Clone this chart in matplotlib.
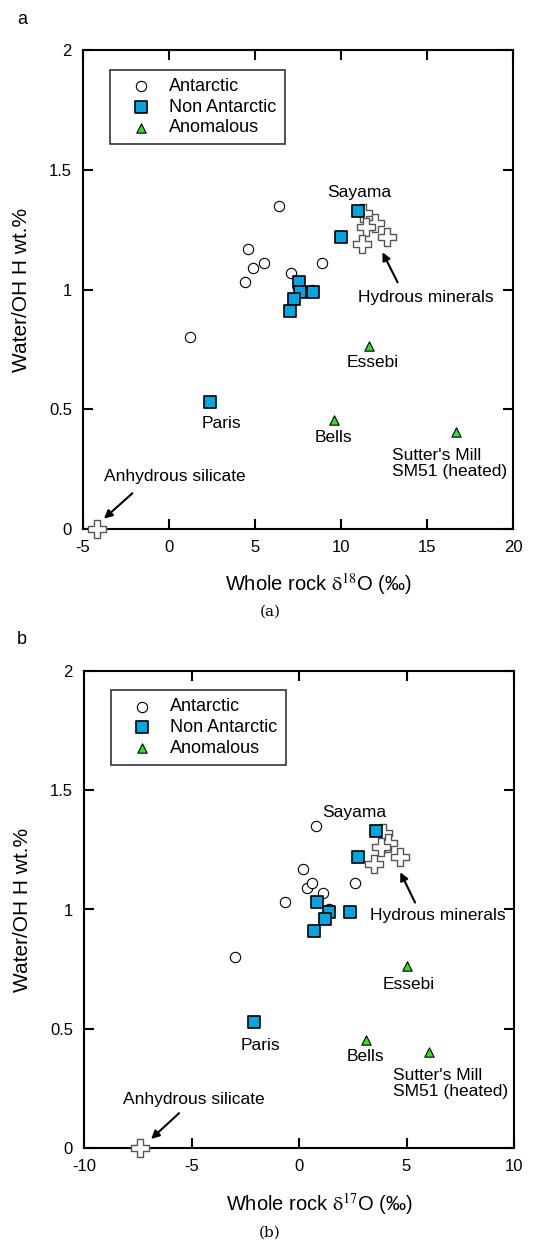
import matplotlib
matplotlib.use('Agg')
import matplotlib.pyplot as plt

plt.rcParams['font.family'] = ['Liberation Sans', 'DejaVu Sans']
plt.rcParams['font.size'] = 12
plt.rcParams['mathtext.fontset'] = 'stix'

# panel a : delta 18O
ant_18 = [6.4, 4.6, 4.9, 5.5, 4.4, 7.1, 8.9, 8.3, 1.2]
ant_h = [1.35, 1.17, 1.09, 1.11, 1.03, 1.07, 1.11, 1.00, 0.80]
non_18 = [11.0, 10.0, 7.55, 7.6, 8.35, 7.27, 7.05, 2.4]
non_h = [1.33, 1.22, 1.03, 0.99, 0.99, 0.96, 0.91, 0.53]
anom_18 = [11.65, 9.6, 16.7]
anom_h = [0.765, 0.455, 0.405]
hyd_18 = [11.3, 12.0, 11.45, 12.7, 11.2, -4.2]
hyd_h = [1.32, 1.28, 1.26, 1.22, 1.19, 0.0]

# panel b : delta 17O
ant_17 = [0.8, 0.2, 0.35, 0.6, -0.65, 1.1, 2.6, 1.4, -3.0]
non_17 = [3.6, 2.75, 0.85, 1.4, 2.35, 1.2, 0.7, -2.1]
anom_17 = [5.0, 3.13, 6.03]
hyd_17 = [3.9, 4.15, 3.8, 4.7, 3.5, -7.4]

sq_color = '#00a6e2'
tri_color = '#2ee02e'

fig = plt.figure(figsize=(5.52, 12.43), dpi=100)
ax_a = fig.add_axes([83/552, 714.3/1243, 430/552, 478.4/1243])
ax_b = fig.add_axes([84/552, 94.7/1243, 430/552, 477.6/1243])


def draw(ax, xa, xn, xt, xh, xlim, xticks, labels, arrows, xlabel):
    ax.scatter(xh, hyd_h, marker='P', s=150, facecolor='white', edgecolor='#555555',
               linewidth=1.0, zorder=5, clip_on=False)
    ax.scatter(xa, ant_h, marker='o', s=55, facecolor='white', edgecolor='black',
               linewidth=0.8, zorder=3, label='Antarctic')
    ax.scatter(xn, non_h, marker='s', s=75, facecolor=sq_color, edgecolor='black',
               linewidth=1.2, zorder=6, label='Non Antarctic')
    ax.scatter(xt, anom_h, marker='^', s=45, facecolor=tri_color, edgecolor='black',
               linewidth=0.8, zorder=4, label='Anomalous')

    for txt, x, y, ha in labels:
        ax.text(x, y, txt, ha=ha, va='center', fontsize=12.5, linespacing=1.1)
    for (x0, y0), (x1, y1) in arrows:
        ax.annotate('', xy=(x1, y1), xytext=(x0, y0),
                    arrowprops=dict(arrowstyle='-|>', color='black', lw=1.5,
                                    mutation_scale=12, shrinkA=0, shrinkB=0))

    ax.set_xlim(xlim)
    ax.set_ylim(0, 2)
    ax.set_xticks(xticks)
    ax.set_xticklabels([str(v) for v in xticks])
    ax.set_yticks([0, 0.5, 1, 1.5, 2])
    ax.set_yticklabels(['0', '0.5', '1', '1.5', '2'])
    ax.tick_params(direction='in', length=7, width=1.5, top=True, right=True,
                   pad=8, labelsize=12)
    for sp in ax.spines.values():
        sp.set_linewidth(1.5)

    ax.set_xlabel(xlabel, fontsize=14.5, va='center')
    ax.xaxis.set_label_coords(0.547, -0.116)
    ax.set_ylabel('Water/OH H wt.%', fontsize=15, va='center')
    ax.yaxis.set_label_coords(-0.142, 0.5)

    leg = ax.legend(loc='upper left', bbox_to_anchor=(0.062, 0.959), borderaxespad=0,
                    frameon=True, fancybox=False, edgecolor='black', fontsize=13,
                    handletextpad=0.25, labelspacing=0.2, borderpad=0.45,
                    handlelength=2.6, scatterpoints=1)
    leg.get_frame().set_linewidth(1.2)


draw(ax_a, ant_18, non_18, anom_18, hyd_18, (-5, 20), [-5, 0, 5, 10, 15, 20],
     [('Sayama', 11.05, 1.405, 'center'),
      ('Hydrous minerals', 14.92, 0.966, 'center'),
      ('Essebi', 11.82, 0.696, 'center'),
      ('Paris', 3.04, 0.44, 'center'),
      ('Bells', 9.55, 0.38, 'center'),
      ("Sutter's Mill\nSM51 (heated)", 12.95, 0.273, 'left'),
      ('Anhydrous silicate', 0.35, 0.217, 'center')],
     [((13.29, 1.03), (12.41, 1.156)), ((-2.13, 0.148), (-3.78, 0.042))],
     r'Whole rock $\mathrm{\delta}^{18}$O (‰)')

draw(ax_b, ant_17, non_17, anom_17, hyd_17, (-10, 10), [-10, -5, 0, 5, 10],
     [('Sayama', 2.59, 1.405, 'center'),
      ('Hydrous minerals', 6.45, 0.973, 'center'),
      ('Essebi', 5.08, 0.684, 'center'),
      ('Paris', -1.81, 0.43, 'center'),
      ('Bells', 3.1, 0.386, 'center'),
      ("Sutter's Mill\nSM51 (heated)", 4.36, 0.273, 'left'),
      ('Anhydrous silicate', -4.87, 0.206, 'center')],
     [((5.40, 1.029), (4.71, 1.156)), ((-5.58, 0.147), (-6.88, 0.039))],
     r'Whole rock $\mathrm{\delta}^{17}$O (‰)')

fig.text(22/552, 1 - 20/1243, 'a', fontsize=13, ha='center', va='center')
fig.text(22/552, 1 - 640/1243, 'b', fontsize=13, ha='center', va='center')
fig.text(270/552, 1 - 612/1243, '(a)', fontsize=11, ha='center', va='center',
         family='DejaVu Serif')
fig.text(270/552, 1 - 1233/1243, '(b)', fontsize=11, ha='center', va='center',
         family='DejaVu Serif')

fig.savefig('out.png', dpi=100)
